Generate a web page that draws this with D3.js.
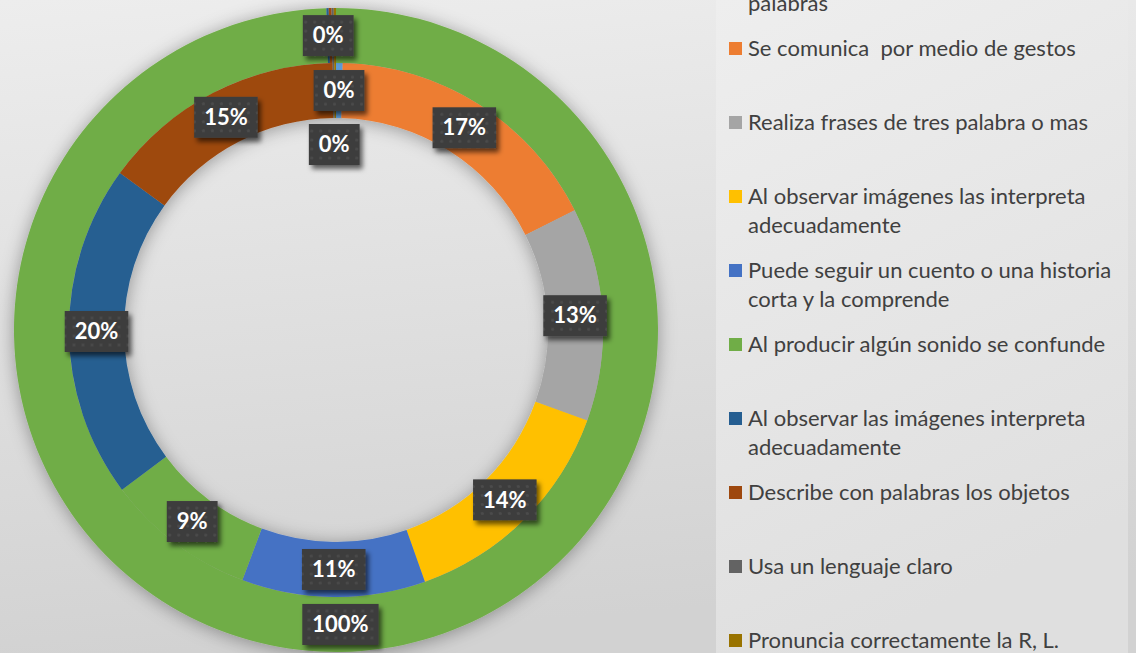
<!DOCTYPE html>
<html>
<head>
<meta charset="utf-8">
<script src="https://cdn.jsdelivr.net/npm/d3@7"></script>
<style>
  body{margin:0;background:#e4e4e4;}
  svg{display:block;font-family:Lato,"Open Sans",sans-serif;}
</style>
</head>
<body>
<svg id="chart" width="1136" height="653"></svg>
<script>
// categories (legend order); "\n" marks where the legend wraps
var categories = [
  "Forma frases sencillas de dos o tres\npalabras",
  "Se comunica  por medio de gestos",
  "Realiza frases de tres palabra o mas",
  "Al observar imágenes las interpreta\nadecuadamente",
  "Puede seguir un cuento o una historia\ncorta y la comprende",
  "Al producir algún sonido se confunde",
  "Al observar las imágenes interpreta\nadecuadamente",
  "Describe con palabras los objetos",
  "Usa un lenguaje claro",
  "Pronuncia correctamente la R, L."
];
var colors = ["#5B9BD5","#ED7D31","#A5A5A5","#FFC000","#4472C4","#70AD47","#255E91","#9E480E","#636363","#997300"];
// inner ring series (%)
var innerValues = [0.4, 17.2, 12.9, 14.1, 11.1, 9.1, 20.2, 14.8, 0.1, 0.1];
// outer ring series (%)
var outerValues = [0, 0, 0, 0, 0, 99.52, 0.12, 0.14, 0.11, 0.11];

var W = 1136, H = 653;
var cx = 336, cy = 330;
var rings = [
  {values: outerValues, r0: 267, r1: 322},
  {values: innerValues, r0: 212, r1: 267}
];

var svg = d3.select("#chart");
var defs = svg.append("defs");

var bg = defs.append("linearGradient").attr("id","bg").attr("x1",0).attr("y1",0).attr("x2",0.15).attr("y2",1);
bg.append("stop").attr("offset","0%").attr("stop-color","#ededed");
bg.append("stop").attr("offset","100%").attr("stop-color","#d2d2d2");
var pg = defs.append("linearGradient").attr("id","panel").attr("x1",0).attr("y1",0).attr("x2",0.3).attr("y2",1);
pg.append("stop").attr("offset","0%").attr("stop-color","#eeeeee");
pg.append("stop").attr("offset","100%").attr("stop-color","#dfdfdf");

var sh = defs.append("filter").attr("id","ringShadow").attr("x","-30%").attr("y","-30%").attr("width","160%").attr("height","160%");
sh.append("feDropShadow").attr("dx",0).attr("dy",2).attr("stdDeviation",9).attr("flood-color","#000").attr("flood-opacity",0.35);
var bs = defs.append("filter").attr("id","boxShadow").attr("x","-30%").attr("y","-30%").attr("width","170%").attr("height","180%");
bs.append("feDropShadow").attr("dx",3).attr("dy",4).attr("stdDeviation",2.5).attr("flood-color","#000").attr("flood-opacity",0.6);

var pat = defs.append("pattern").attr("id","dots").attr("width",9).attr("height",9).attr("patternUnits","userSpaceOnUse");
pat.append("rect").attr("width",9).attr("height",9).attr("fill","#3d3d3d");
pat.append("circle").attr("cx",4.5).attr("cy",4.5).attr("r",1.6).attr("fill","#4b4b4b");

svg.append("rect").attr("width",W).attr("height",H).attr("fill","url(#bg)");
svg.append("rect").attr("x",716).attr("y",0).attr("width",412).attr("height",H).attr("fill","url(#panel)");

var pie = d3.pie().sort(null).value(function(d){ return d; });
var pct = d3.format(".0%");

var donut = svg.append("g").attr("transform","translate("+cx+","+cy+")").attr("filter","url(#ringShadow)");
var labels = [];

rings.forEach(function(ring){
  var total = d3.sum(ring.values);
  var arc = d3.arc().innerRadius(ring.r0).outerRadius(ring.r1);
  var arcs = pie(ring.values);
  donut.append("g").selectAll("path")
    .data(arcs.filter(function(a){ return a.value > 0; }))
    .join("path")
    .attr("d", arc)
    .attr("fill", function(a){ return colors[a.index]; });

  // labels: tiny slices that round to 0% are grouped by side of the top, stacked inward
  var zeroGroups = {};
  var order = [];
  arcs.forEach(function(a){
    if(a.value <= 0) return;
    var t = pct(a.value / total);
    if(t !== "0%"){
      var c = arc.centroid(a);
      labels.push({x:c[0], y:c[1], text:t});
    }else{
      var side = (a.startAngle + a.endAngle)/2 < Math.PI ? "r" : "l";
      if(!zeroGroups[side]){ zeroGroups[side] = a; order.push(side); }
    }
  });
  var rMid = (ring.r0 + ring.r1)/2;
  order.forEach(function(side, k){
    var a = zeroGroups[side];
    var ang = (a.startAngle + a.endAngle)/2;
    var r = rMid - k*54;
    labels.push({x: r*Math.sin(ang), y: -r*Math.cos(ang), text: "0%"});
  });
});

var lg = svg.append("g").attr("transform","translate("+cx+","+cy+")");
labels.forEach(function(l){
  var g = lg.append("g").attr("transform","translate("+l.x+","+l.y+")");
  var rect = g.append("rect").attr("fill","url(#dots)").attr("filter","url(#boxShadow)");
  var t = g.append("text").text(l.text)
    .attr("text-anchor","middle").attr("dy","0.35em")
    .attr("fill","#fff").attr("font-weight","bold").attr("font-size",22);
  var w = t.node().getComputedTextLength() + 20;
  rect.attr("x",-w/2).attr("y",-20.5).attr("width",w).attr("height",41);
});

// legend
var legend = svg.append("g");
var rowY = d3.scaleLinear().domain([0,1]).range([-26,48]);
categories.forEach(function(c, i){
  var y = rowY(i);
  var item = legend.append("g").attr("transform","translate(0,"+y+")");
  item.append("rect").attr("x",729).attr("y",-6).attr("width",13).attr("height",13).attr("fill",colors[i]);
  c.split("\n").forEach(function(line, j){
    item.append("text").attr("x",748).attr("y",j*29.5).attr("dy","0.35em")
      .attr("fill","#404040").attr("font-size",22).style("white-space","pre")
      .text(line);
  });
});
</script>
</body>
</html>
